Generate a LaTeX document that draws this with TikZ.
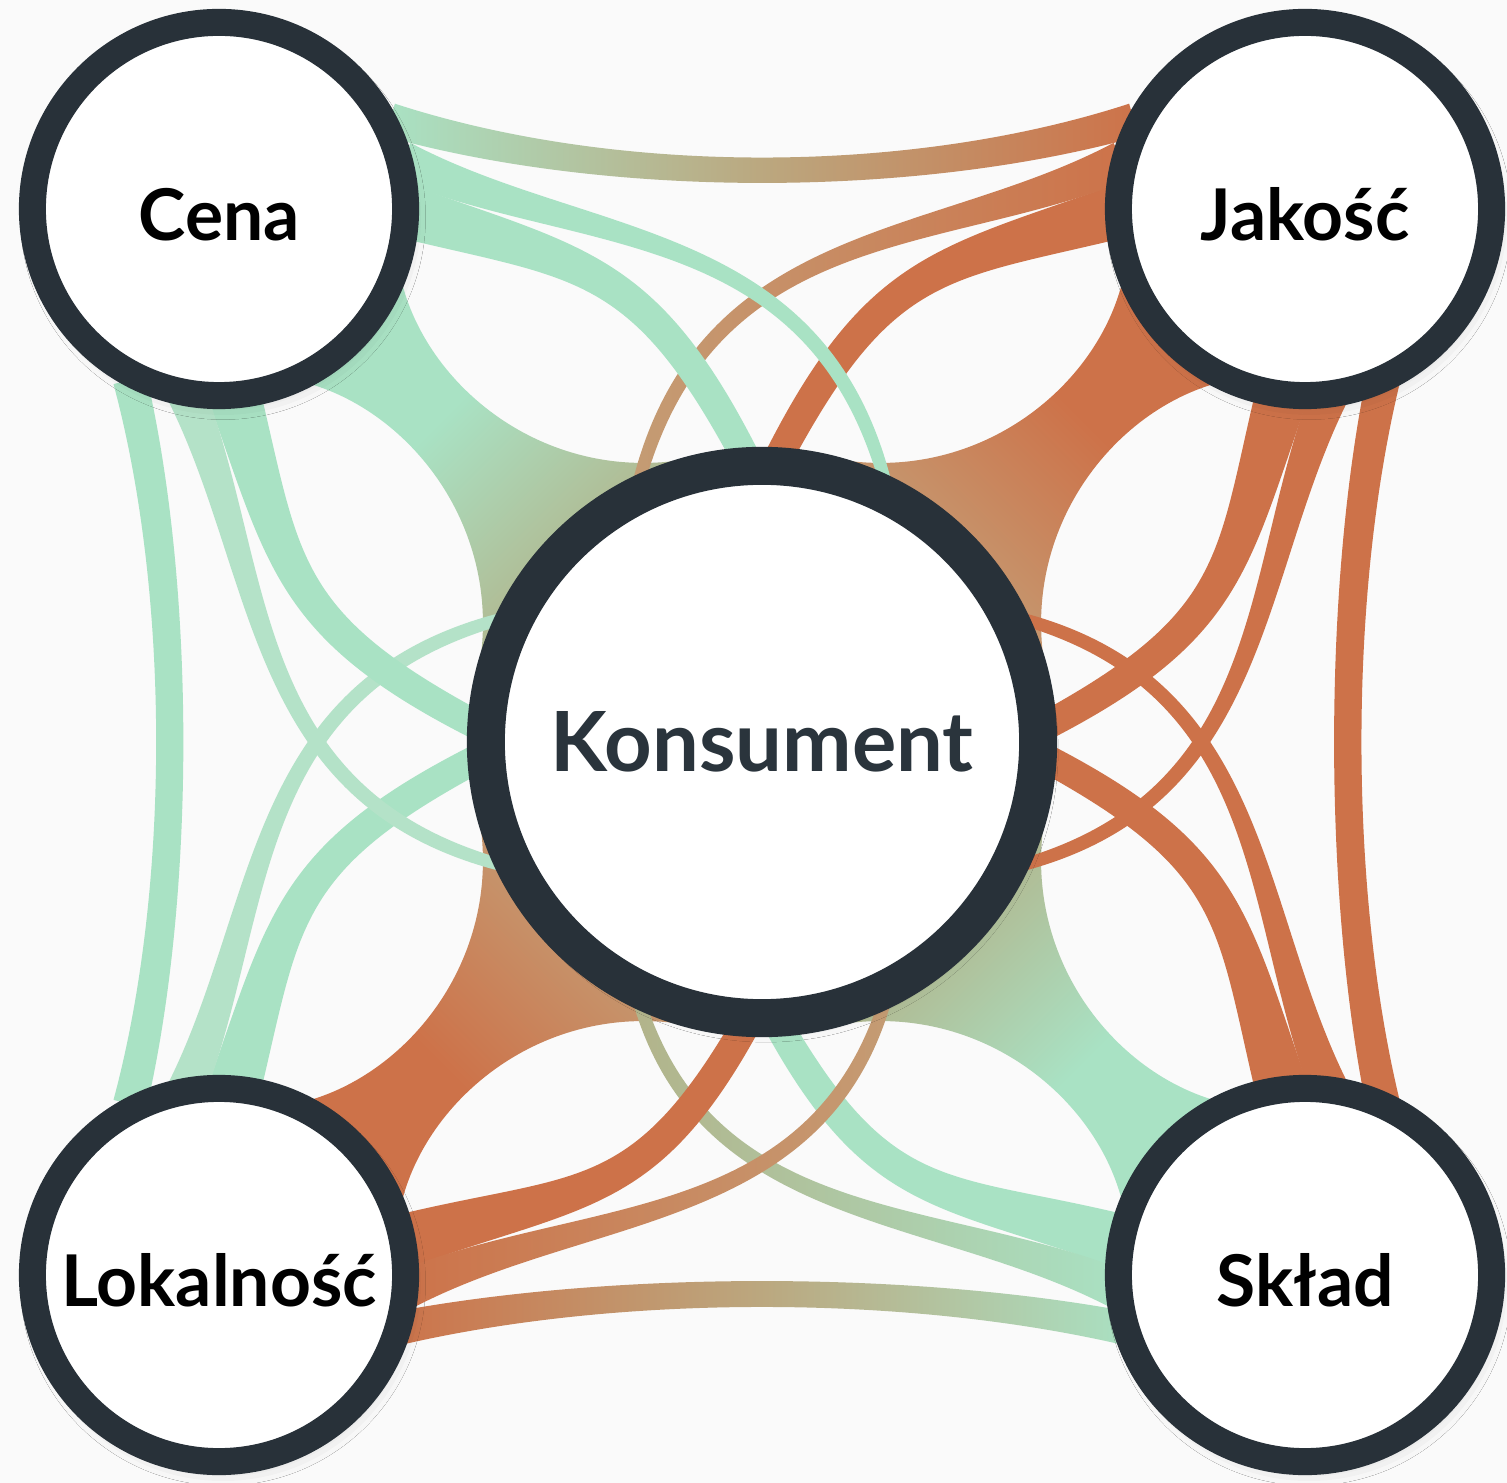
\documentclass[tikz,border=0pt]{standalone}
\usepackage{fontspec}
\setmainfont{Lato}
\usetikzlibrary{calc,shadows.blur}
\definecolor{cMint}{HTML}{A9E2C4}
\definecolor{cMintL}{HTML}{B4E2C8}
\definecolor{cRust}{HTML}{CD7249}
\definecolor{cKhaki}{HTML}{B2B38A}
\definecolor{cTan}{HTML}{C49C74}
\definecolor{cRing}{HTML}{283139}
\definecolor{cText}{HTML}{2A343C}
\definecolor{cBg}{HTML}{FAFAFA}
\colorlet{fanA}{cMint}
\colorlet{fanB}{cKhaki}
\pgfdeclareverticalshading[fanA,fanB]{fanshade}{100bp}{color(0bp)=(fanB); color(36bp)=(fanB); color(57bp)=(fanA); color(100bp)=(fanA)}

% tapered ribbon: start, ctrl1, ctrl2, end, width at start, at controls, at end (px), style
\newcommand\band[8]{%
 \coordinate (ba) at ($(#1)!#5*0.05mm!90:(#2)$);
 \coordinate (bb) at ($(#1)!#5*0.05mm!-90:(#2)$);
 \coordinate (ba2) at ($(#2)!#6*0.05mm!-90:(#1)$);
 \coordinate (bb2) at ($(#2)!#6*0.05mm!90:(#1)$);
 \coordinate (bc) at ($(#4)!#7*0.05mm!-90:(#3)$);
 \coordinate (bd) at ($(#4)!#7*0.05mm!90:(#3)$);
 \coordinate (bc2) at ($(#3)!#6*0.05mm!90:(#4)$);
 \coordinate (bd2) at ($(#3)!#6*0.05mm!-90:(#4)$);
 \path[#8] (ba) .. controls (ba2) and (bc2) .. (bc) -- (bd) .. controls (bd2) and (bb2) .. (bb) -- cycle;}

% quadrant-local point (mirrored by \sx, \sy around the centre node)
\newcommand\qp[3]{\coordinate (#1) at ($(pK)+({\sx*(#2)},{\sy*(#3)})$);}

\newcommand\quadfan[3]{%
 \def\sx{#1}\def\sy{#2}%
 \qp{fp1}{-361}{-463}\qp{fc1}{-336}{-356}\qp{fc2}{-219}{-261}\qp{fq1}{-80}{-282}
 \qp{fq2}{-282}{-80}\qp{fc3}{-261}{-219}\qp{fc4}{-356}{-336}\qp{fp2}{-463}{-361}
 \qp{fk}{0}{0}\qp{fcor}{-543}{-533}
 \path[shading=fanshade, shading angle=#3] (fp1) .. controls (fc1) and (fc2) .. (fq1) -- (fk) -- (fq2)
   .. controls (fc3) and (fc4) .. (fp2) -- (fcor) -- cycle;}

\newcommand\quadbands[4]{%
 \def\sx{#1}\def\sy{#2}\def\hs{#3}\def\vs{#4}%
 \qp{h2s}{-360}{-581+\hs}\qp{h2a}{-174}{-494+\hs}\qp{h2b}{60}{-520+\hs}\qp{h2e}{126}{-249}
 \qp{h3s}{-362}{-532+\hs}\qp{h3a}{-176}{-476+\hs}\qp{h3b}{-115}{-480+\hs/2}\qp{h3e}{-8}{-268}
 \qp{v2s}{-581+\vs}{-360}\qp{v2a}{-494+\vs}{-174}\qp{v2b}{-520+\vs}{60}\qp{v2e}{-249}{126}
 \qp{v3s}{-532+\vs}{-362}\qp{v3a}{-476+\vs}{-176}\qp{v3b}{-480+\vs/2}{-115}\qp{v3e}{-268}{-8}
 \band{v3s}{v3a}{v3b}{v3e}{54}{34}{28}{vthick}
 \band{v2s}{v2a}{v2b}{v2e}{40}{19}{12}{vthin}
 \band{h3s}{h3a}{h3b}{h3e}{54}{34}{28}{hthick}
 \band{h2s}{h2a}{h2b}{h2e}{40}{19}{12}{hthin}}

\tikzset{
 ring/.style={circle, draw=cRing, fill=white, inner sep=0pt,
   blur shadow={shadow xshift=0.4mm, shadow yshift=-0.8mm, shadow blur radius=1.6mm, shadow opacity=18}},
 corner/.style={ring, line width=2.7mm, minimum size=37.3mm,
   text=black, font=\fontsize{20.3}{24}\selectfont\bfseries,
   text height=17.8pt, text depth=0pt},
 hub/.style={ring, line width=3.8mm, minimum size=55.2mm,
   text=cText, font=\fontsize{23.6}{28}\selectfont\bfseries,
   text height=17pt, text depth=0pt}
}

\begin{document}
\begin{tikzpicture}[x=0.01cm,y=-0.01cm]
\fill[cBg] (0,0) rectangle (1507,1483);
\path[use as bounding box] (0,0) rectangle (1507,1483);

\coordinate (pK) at (762,742);
\coordinate (pC) at (219,209);
\coordinate (pJ) at (1305,209);
\coordinate (pL) at (219,1275);
\coordinate (pS) at (1305,1275);

% fans to the hub
\colorlet{fanA}{cRust}\colorlet{fanB}{cTan}
\quadfan{-1}{1}{-45}
\quadfan{1}{-1}{135}
\colorlet{fanA}{cMint}\colorlet{fanB}{cKhaki}
\quadfan{-1}{-1}{-135}
\quadfan{1}{1}{45}

% outer ribbons between neighbouring corners
\coordinate (t1a) at (390,120); \coordinate (t1b) at (612,187);
\coordinate (t1c) at (912,187); \coordinate (t1d) at (1134,120);
\band{t1a}{t1b}{t1c}{t1d}{34}{24}{34}{left color=cMint, right color=cRust, middle color=cKhaki!50!cTan}
\coordinate (b1a) at (390,1330); \coordinate (b1b) at (612,1282);
\coordinate (b1c) at (912,1282); \coordinate (b1d) at (1134,1330);
\band{b1a}{b1b}{b1c}{b1d}{34}{24}{34}{left color=cRust, right color=cMint, middle color=cKhaki!50!cTan}
\coordinate (l1a) at (130,380); \coordinate (l1b) at (183,592);
\coordinate (l1c) at (183,892); \coordinate (l1d) at (130,1104);
\band{l1a}{l1b}{l1c}{l1d}{34}{26}{34}{fill=cMint}
\coordinate (r1a) at (1383,380); \coordinate (r1b) at (1336,592);
\coordinate (r1c) at (1336,892); \coordinate (r1d) at (1383,1104);
\band{r1a}{r1b}{r1c}{r1d}{34}{26}{34}{fill=cRust}

% ribbons from each corner to the hub
\tikzset{hthin/.style={left color=cTan, right color=cRust}, hthick/.style={fill=cRust},
  vthin/.style={fill=cRust}, vthick/.style={fill=cRust}}
\quadbands{-1}{1}{0}{8}
\tikzset{hthin/.style={left color=cKhaki, right color=cMint}, hthick/.style={fill=cMint},
  vthin/.style={fill=cRust}, vthick/.style={fill=cRust}}
\quadbands{-1}{-1}{32}{8}
\tikzset{hthin/.style={left color=cRust, right color=cTan}, hthick/.style={fill=cRust},
  vthin/.style={fill=cMintL}, vthick/.style={fill=cMint}}
\quadbands{1}{-1}{32}{0}
\tikzset{hthin/.style={fill=cMint}, hthick/.style={fill=cMint},
  vthin/.style={fill=cMintL}, vthick/.style={fill=cMint}}
\quadbands{1}{1}{0}{0}

% nodes
\node[corner] (cena) at (pC) {Cena};
\node[corner] (jakosc) at (pJ) {Jakość};
\node[corner] (lokalnosc) at (pL) {Lokalność};
\node[corner] (sklad) at (pS) {Skład};
\node[hub] (konsument) at (pK) {Konsument};
\end{tikzpicture}
\end{document}
